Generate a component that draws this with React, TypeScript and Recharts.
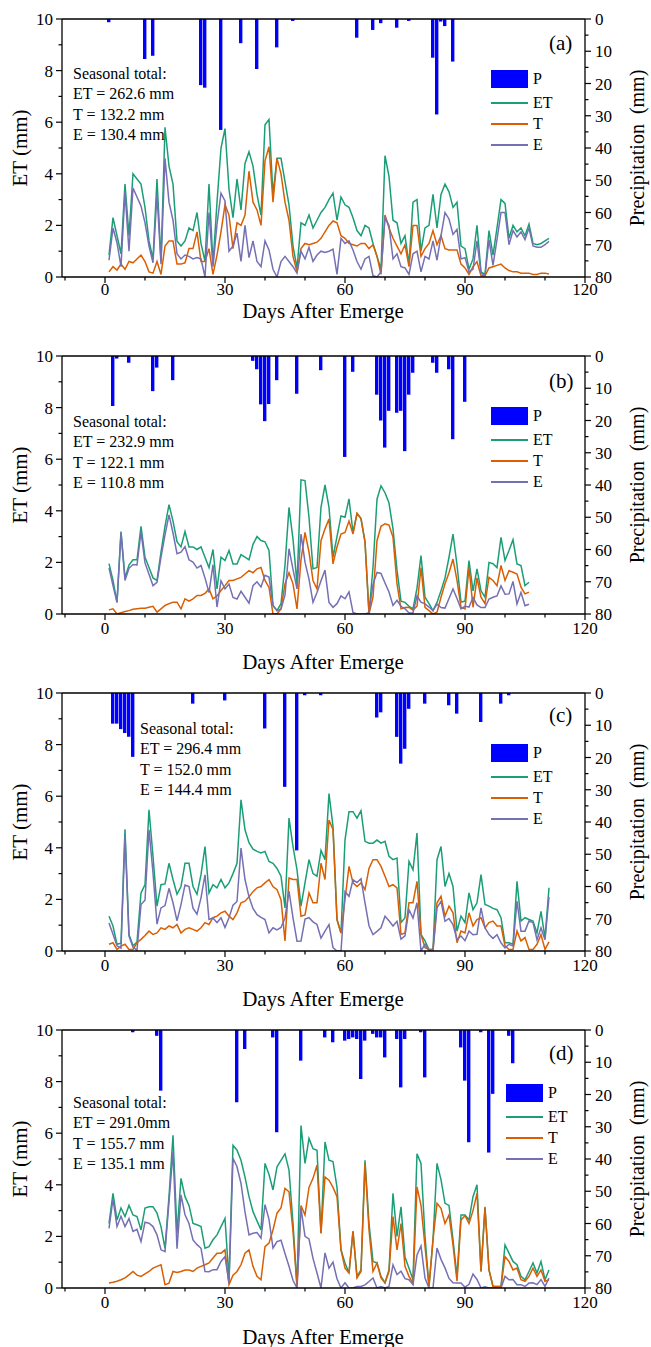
import { Bar, ComposedChart, Line, ReferenceLine, XAxis, YAxis } from 'recharts';

const SERIF = 'Liberation Serif, DejaVu Serif, serif';
const C_ET = '#1b9e77';
const C_T = '#d95f02';
const C_E = '#7570b3';
const C_P = '#0000ff';

const X_DOMAIN: [number, number] = [-10.75, 120];
const X_TICKS = [-10, 0, 10, 20, 30, 40, 50, 60, 70, 80, 90, 100, 110, 120];
const ET_TICKS = [0, 1, 2, 3, 4, 5, 6, 7, 8, 9, 10];
const P_TICKS = [0, 5, 10, 15, 20, 25, 30, 35, 40, 45, 50, 55, 60, 65, 70, 75, 80];

// (a) daily values, day 1..111
const ET_A = [
  0.85, 2.3, 1.6, 0.9, 3.6, 1.6, 4.0, 3.8, 3.6, 2.7,
  1.4, 0.7, 3.8, 0.6, 5.8, 4.3, 3.6, 1.4, 1.2, 1.4,
  1.9, 1.8, 2.5, 1.3, 0.6, 3.6, 0.5, 2.9, 5.0, 5.75,
  3.4, 2.3, 3.8, 2.6, 4.4, 4.85, 4.3, 3.2, 2.4, 5.9,
  6.1, 3.2, 4.6, 4.6, 3.7, 2.8, 1.2, 0.35, 2.1, 2.0,
  2.4, 1.9, 2.2, 2.5, 2.7, 3.0, 3.25, 2.2, 3.1, 2.8,
  2.7, 2.3, 1.8, 1.6, 2.0, 1.9, 1.3, 0.8, 0.3, 4.7,
  3.9, 2.2, 2.1, 1.3, 1.6, 0.5, 2.9, 3.0, 1.0, 1.9,
  2.0, 3.2, 1.9, 3.2, 3.6, 3.3, 2.7, 2.9, 1.2, 1.1,
  0.3, 0.7, 2.0, 0.2, 0.1, 1.8, 0.85, 1.9, 3.0, 2.85,
  1.5, 2.0, 1.75, 1.9, 1.6, 2.05, 1.3, 1.25, 1.3, 1.4, 1.5,
];
const T_A = [
  0.2, 0.4, 0.27, 0.5, 0.3, 0.6, 0.55, 0.7, 0.85, 0.6,
  0.2, 0.15, 0.6, 0.1, 1.2, 1.4, 1.4, 0.5, 0.5, 0.55,
  1.1, 1.1, 1.75, 0.6, 0.6, 1.1, 0.1, 0.85, 1.75, 2.8,
  2.4, 1.1, 2.1, 2.0, 2.4, 4.1, 2.9, 2.6, 2.0, 4.5,
  5.05, 2.9, 4.6, 4.0, 2.9, 2.2, 0.8, 0.2, 1.1, 1.3,
  1.25, 1.3, 1.35, 1.5, 1.75, 2.0, 2.17, 2.1, 1.6, 1.5,
  1.3, 1.25, 1.2, 1.3, 1.3, 1.1, 1.25, 0.8, 0.1, 2.4,
  1.9, 1.5, 1.2, 0.9, 1.25, 0.4, 2.0, 2.0, 0.8, 1.1,
  1.3, 1.8, 1.25, 1.6, 1.1, 1.05, 1.05, 1.05, 0.5, 0.35,
  0.1, 0.4, 0.6, 0.05, 0.05, 0.35, 0.4, 0.45, 0.5, 0.35,
  0.25, 0.2, 0.2, 0.15, 0.15, 0.15, 0.1, 0.1, 0.15, 0.15, 0.12,
];
const E_A = [
  0.65, 1.9, 1.33, 0.4, 3.3, 1.0, 3.45, 3.1, 2.75, 2.1,
  1.2, 0.55, 3.2, 0.5, 4.6, 2.9, 2.2, 0.9, 0.7, 0.85,
  0.8, 0.7, 0.75, 0.7, 0.0, 2.5, 0.4, 2.05, 3.25, 2.95,
  1.0, 1.2, 1.7, 0.6, 2.0, 0.75, 1.4, 0.6, 0.4, 1.4,
  1.05, 0.3, 0.0, 0.6, 0.8, 0.6, 0.4, 0.15, 1.0, 0.7,
  1.15, 0.6, 0.85, 1.0, 0.95, 1.0, 1.08, 0.1, 1.5, 1.3,
  1.4, 1.05, 0.6, 0.3, 0.7, 0.8, 0.05, 0.0, 0.2, 2.3,
  2.0, 0.7, 0.9, 0.4, 0.35, 0.1, 0.9, 1.0, 0.2, 0.8,
  0.7, 1.4, 0.65, 1.6, 2.5, 2.25, 1.65, 1.85, 0.7, 0.75,
  0.2, 0.3, 1.4, 0.15, 0.05, 1.45, 0.45, 1.45, 2.5, 2.5,
  1.25, 1.8, 1.55, 1.75, 1.45, 1.9, 1.2, 1.15, 1.15, 1.25, 1.38,
];
const P_DAY_A = [1, 10, 12, 24, 25, 29, 34, 38, 43, 47, 63, 67, 69, 73, 76, 82, 83, 84, 85, 87];
const P_MM_A = [1.0, 12.4, 11.4, 20.5, 21.3, 34.4, 7.5, 15.5, 8.8, 0.6, 5.8, 3.4, 1.3, 2.7, 0.6, 12.0, 29.6, 0.8, 2.2, 13.2];

// (b) daily values, day 1..106
const ET_B = [
  1.95, 1.3, 0.45, 3.2, 1.4, 1.9, 2.1, 2.1, 3.4, 2.2,
  1.8, 1.4, 1.3, 2.4, 3.4, 4.24, 3.6, 2.8, 2.6, 3.2,
  2.6, 2.6, 2.5, 2.6, 2.2, 1.8, 2.5, 0.97, 2.2, 2.07,
  2.46, 1.94, 1.94, 2.3, 2.2, 2.1, 2.7, 3.0, 2.85, 2.8,
  2.46, 0.33, 0.13, 0.4, 1.9, 4.13, 2.9, 1.17, 5.2, 5.17,
  3.75, 1.75, 1.8, 4.13, 5.0, 4.13, 2.2, 3.0, 3.8, 3.75,
  4.46, 3.16, 3.9, 3.7, 2.8, 0.05, 1.8, 4.45, 4.97, 4.7,
  4.3, 3.3, 1.7, 0.5, 0.45, 0.3, 0.2, 1.0, 2.26, 0.65,
  0.4, 0.13, 0.45, 0.9, 1.4, 2.2, 3.1, 1.9, 0.46, 0.5,
  2.07, 0.9, 1.75, 0.9, 0.65, 2.0, 1.95, 1.8, 2.97, 2.07,
  2.46, 2.88, 1.94, 1.88, 1.1, 1.23,
];
const T_B = [
  0.16, 0.2, 0.0, 0.05, 0.1, 0.13, 0.18, 0.2, 0.22, 0.22,
  0.26, 0.3, 0.07, 0.2, 0.33, 0.4, 0.46, 0.46, 0.2, 0.59,
  0.5, 0.59, 0.72, 0.72, 0.8, 0.97, 0.59, 0.7, 0.91, 1.1,
  1.3, 1.3, 1.36, 1.42, 1.55, 1.68, 1.6, 1.75, 1.8, 1.3,
  1.03, 0.0, 0.0, 0.2, 1.17, 1.6, 1.17, 0.2, 2.1, 3.16,
  2.4, 1.3, 0.97, 2.84, 3.3, 3.68, 1.94, 2.6, 3.1, 3.16,
  3.6, 3.1, 3.9, 3.7, 2.8, 0.0, 0.65, 2.84, 3.4, 3.5,
  3.45, 2.97, 1.17, 0.2, 0.25, 0.26, 0.15, 0.3, 1.8, 0.26,
  0.13, 0.0, 0.07, 0.65, 1.17, 1.6, 2.13, 1.3, 0.26, 0.2,
  1.8, 0.26, 1.4, 0.65, 0.4, 1.42, 1.3, 1.1, 1.88, 1.3,
  1.68, 1.62, 1.55, 1.04, 0.78, 0.85,
];
const E_B = [
  1.79, 1.1, 0.45, 3.15, 1.3, 1.77, 1.92, 1.9, 3.18, 1.98,
  1.54, 1.1, 1.23, 2.2, 3.07, 3.84, 3.14, 2.34, 2.4, 2.61,
  2.1, 2.01, 1.78, 1.88, 1.4, 0.83, 1.91, 0.27, 1.29, 0.97,
  1.16, 0.64, 0.58, 0.88, 0.65, 0.42, 1.1, 1.25, 1.05, 1.5,
  1.43, 0.33, 0.13, 0.2, 0.73, 2.53, 1.73, 0.97, 3.1, 2.01,
  1.35, 0.45, 0.83, 1.29, 1.7, 0.45, 0.26, 0.4, 0.7, 0.59,
  0.86, 0.06, 0.0, 0.0, 0.0, 0.05, 1.15, 1.61, 1.57, 1.2,
  0.85, 0.33, 0.53, 0.3, 0.2, 0.04, 0.05, 0.7, 0.46, 0.39,
  0.27, 0.13, 0.38, 0.25, 0.23, 0.6, 0.97, 0.6, 0.2, 0.3,
  0.27, 0.64, 0.35, 0.25, 0.25, 0.58, 0.65, 0.7, 1.09, 0.77,
  0.78, 1.26, 0.39, 0.84, 0.32, 0.38,
];
const P_DAY_B = [2, 3, 6, 12, 13, 17, 37, 38, 39, 40, 41, 43, 48, 54, 60, 62, 68, 69, 70, 71, 73, 74, 75, 76, 77, 82, 83, 86, 87, 90];
const P_MM_B = [15.5, 0.8, 2.1, 10.9, 3.6, 7.5, 1.5, 4.1, 15, 20.2, 14.9, 7.5, 11.7, 4.4, 31.3, 4.9, 12, 20, 28.4, 17, 17.6, 17, 29.5, 12, 5.2, 2.1, 5.2, 4.1, 25.8, 14.2];

// (c) daily values, day 1..111
const ET_C = [
  1.35, 0.97, 0.26, 0.3, 4.72, 0.64, 0.2, 0.35, 2.25, 2.57,
  5.47, 3.67, 1.74, 2.57, 2.6, 3.4, 2.77, 2.2, 2.5, 3.4,
  3.4, 2.5, 2.2, 2.96, 4.05, 2.25, 2.57, 2.45, 2.77, 2.45,
  2.64, 3.0, 3.4, 5.86, 4.7, 4.2, 3.95, 3.86, 3.8, 3.86,
  3.47, 3.4, 3.2, 2.9, 1.67, 5.15, 4.05, 3.15, 1.74, 2.64,
  3.54, 3.0, 2.9, 3.9, 3.54, 6.1, 4.83, 1.22, 0.7, 4.3,
  5.4, 5.4, 5.15, 5.44, 4.25, 4.18, 4.18, 4.3, 4.18, 4.25,
  3.67, 3.54, 3.6, 1.1, 1.29, 3.47, 3.15, 4.57, 0.64, 0.39,
  0.06, 0.06, 3.54, 4.05, 2.5, 3.0, 2.5, 0.77, 1.35, 1.1,
  2.25, 1.6, 1.87, 2.96, 1.8, 1.74, 1.65, 1.6, 1.29, 0.32,
  0.32, 0.26, 2.7, 1.16, 1.29, 1.22, 1.16, 0.7, 1.54, 0.5, 2.45,
];
const T_C = [
  0.26, 0.32, 0.06, 0.19, 0.26, 0.06, 0.06, 0.32, 0.45, 0.6,
  0.77, 0.64, 0.7, 0.9, 0.84, 0.97, 0.9, 1.03, 0.7, 0.84,
  0.9, 0.84, 0.77, 0.9, 1.1, 1.03, 1.29, 1.35, 1.48, 1.54,
  1.35, 1.22, 1.48, 1.87, 1.93, 2.1, 2.3, 2.45, 2.5, 2.64,
  2.77, 2.5, 2.38, 1.99, 0.39, 2.83, 2.77, 2.77, 1.35, 1.4,
  2.25, 1.87, 1.87, 3.4, 2.77, 5.08, 4.7, 1.22, 0.7, 2.0,
  3.28, 2.64, 2.5, 2.64, 2.38, 3.2, 3.54, 3.54, 3.28, 2.9,
  2.5, 2.57, 2.45, 0.64, 0.7, 1.87, 1.87, 2.7, 0.64, 0.13,
  0.06, 0.06, 1.87, 2.12, 1.35, 1.74, 1.48, 0.32, 0.77, 0.7,
  1.48, 0.97, 1.22, 1.29, 0.9, 1.1, 1.16, 0.97, 0.97, 0.2,
  0.06, 0.06, 0.77, 0.39, 0.52, 0.06, 0.06, 0.26, 0.64, 0.06, 0.35,
];
const E_C = [
  1.09, 0.65, 0.2, 0.11, 4.46, 0.58, 0.14, 0.03, 1.8, 1.97,
  4.7, 3.03, 1.04, 1.67, 1.76, 2.43, 1.87, 1.17, 1.8, 2.56,
  2.5, 1.66, 1.43, 2.06, 2.95, 1.22, 1.28, 1.1, 1.29, 0.91,
  1.29, 1.78, 1.92, 3.99, 2.77, 2.1, 1.65, 1.41, 1.3, 1.22,
  0.7, 0.9, 0.82, 0.91, 1.28, 2.32, 1.28, 0.38, 0.39, 1.24,
  1.29, 1.13, 1.03, 0.5, 0.77, 1.02, 0.13, 0.0, 0.0, 2.3,
  2.12, 2.76, 2.65, 2.8, 1.87, 0.98, 0.64, 0.76, 0.9, 1.35,
  1.17, 0.97, 1.15, 0.46, 0.59, 1.6, 1.28, 1.87, 0.0, 0.26,
  0.0, 0.0, 1.67, 1.93, 1.15, 1.26, 1.02, 0.45, 0.58, 0.4,
  0.77, 0.63, 0.65, 1.67, 0.9, 0.64, 0.49, 0.63, 0.32, 0.12,
  0.26, 0.2, 1.93, 0.77, 0.77, 1.16, 1.1, 0.44, 0.9, 0.44, 2.1,
];
const P_DAY_C = [2, 3, 4, 5, 6, 7, 22, 30, 40, 45, 48, 50, 54, 68, 69, 73, 74, 75, 76, 80, 86, 88, 94, 99, 101];
const P_MM_C = [9.5, 9.5, 11.2, 12.4, 13.6, 19.8, 3.3, 2.3, 11, 29.1, 48.8, 0.7, 0.7, 7.6, 6, 13.6, 21.9, 17.3, 4.9, 3.3, 3.8, 6.4, 9, 3.3, 0.7];

// (d) daily values, day 1..111
const ET_D = [
  2.5, 3.67, 2.64, 3.1, 2.77, 3.2, 2.83, 2.77, 2.25, 3.1,
  3.15, 3.15, 2.9, 2.38, 1.54, 3.54, 5.92, 2.12, 4.25, 3.54,
  3.2, 2.5, 2.45, 2.38, 1.54, 1.6, 1.87, 2.06, 2.38, 2.7,
  0.32, 5.53, 5.34, 4.95, 4.3, 3.54, 2.96, 2.6, 2.25, 4.83,
  4.4, 3.8, 4.7, 4.95, 5.2, 4.57, 2.5, 0.06, 6.3, 4.83,
  5.8, 5.4, 5.34, 2.12, 5.66, 4.95, 4.9, 3.9, 1.48, 0.97,
  0.58, 2.2, 0.45, 0.7, 4.95, 2.5, 1.03, 0.97, 0.45, 0.2,
  0.7, 3.67, 2.0, 3.15, 1.2, 0.77, 0.32, 5.2, 4.83, 2.0,
  0.06, 1.87, 4.83, 4.2, 3.28, 3.2, 1.87, 0.45, 2.83, 2.83,
  2.64, 3.54, 4.0, 0.64, 3.15, 0.7, 0.06, 0.06, 0.06, 1.67,
  1.35, 1.03, 0.9, 0.45, 0.32, 0.64, 0.97, 0.58, 1.03, 0.32, 0.7,
];
const T_D = [
  0.19, 0.22, 0.26, 0.32, 0.39, 0.51, 0.64, 0.5, 0.45, 0.55,
  0.64, 0.77, 0.84, 0.9, 0.13, 0.19, 0.64, 0.6, 0.64, 0.7,
  0.7, 0.64, 0.77, 0.84, 0.9, 0.97, 1.16, 1.35, 1.35, 1.48,
  0.13, 0.5, 0.64, 0.9, 1.35, 1.48, 0.84, 0.45, 0.32, 1.6,
  1.74, 2.25, 2.9, 3.1, 3.86, 3.73, 2.2, 0.06, 3.2, 2.83,
  3.9, 4.25, 4.76, 2.12, 4.3, 4.18, 3.9, 3.54, 1.48, 0.77,
  0.58, 2.2, 0.39, 0.64, 4.83, 2.25, 0.64, 0.97, 0.39, 0.2,
  0.64, 2.77, 1.48, 2.5, 0.84, 0.45, 0.19, 3.92, 3.2, 1.61,
  0.06, 1.87, 3.28, 3.09, 2.5, 2.83, 1.67, 0.26, 2.64, 2.8,
  2.5, 3.0, 3.67, 0.64, 3.1, 0.7, 0.06, 0.06, 0.06, 1.22,
  1.03, 0.7, 0.77, 0.32, 0.26, 0.45, 0.77, 0.45, 0.7, 0.26, 0.32,
];
const E_D = [
  2.31, 3.45, 2.38, 2.78, 2.38, 2.69, 2.19, 2.27, 1.8, 2.55,
  2.51, 2.38, 2.06, 1.48, 1.41, 3.35, 5.28, 1.52, 3.61, 2.84,
  2.5, 1.86, 1.68, 1.54, 0.64, 0.63, 0.71, 0.71, 1.03, 1.22,
  0.19, 5.03, 4.7, 4.05, 2.95, 2.06, 2.12, 2.15, 1.93, 3.23,
  2.66, 1.55, 1.8, 1.85, 1.34, 0.84, 0.3, 0.0, 3.1, 2.0,
  1.9, 1.15, 0.58, 0.0, 1.36, 0.77, 1.0, 0.36, 0.0, 0.2,
  0.0, 0.0, 0.06, 0.06, 0.12, 0.25, 0.39, 0.0, 0.06, 0.0,
  0.06, 0.9, 0.52, 0.65, 0.36, 0.32, 0.13, 1.28, 1.63, 0.39,
  0.0, 0.0, 1.55, 1.11, 0.78, 0.37, 0.2, 0.19, 0.19, 0.03,
  0.14, 0.54, 0.33, 0.0, 0.05, 0.0, 0.0, 0.0, 0.0, 0.45,
  0.32, 0.33, 0.13, 0.13, 0.06, 0.19, 0.2, 0.13, 0.33, 0.06, 0.38,
];
const P_DAY_D = [7, 13, 14, 33, 35, 42, 43, 49, 55, 57, 60, 61, 62, 63, 64, 65, 67, 68, 69, 70, 73, 74, 75, 79, 80, 89, 90, 91, 94, 96, 97, 101, 102];
const P_MM_D = [0.7, 1.8, 18.8, 22.4, 5.9, 2.3, 31.7, 9.5, 2.3, 3.8, 3.3, 2.8, 2.3, 2.8, 15.2, 3.3, 1.2, 2.3, 2.3, 8.5, 2.8, 17.8, 2.8, 0.7, 14.7, 5.4, 15.7, 34.8, 0.7, 38, 19.8, 1.8, 10.3];

const PANELS = [
  { tag: '(a)', et: ET_A, t: T_A, e: E_A, pDay: P_DAY_A, pMm: P_MM_A,
    totals: ['Seasonal total:', 'ET = 262.6 mm', 'T = 132.2 mm', 'E = 130.4 mm'],
    textX: 73, textTop: 64, legendX: 491, legendY: 70, tagY: 43, tickDy: 18, titleGap: 34 },
  { tag: '(b)', et: ET_B, t: T_B, e: E_B, pDay: P_DAY_B, pMm: P_MM_B,
    totals: ['Seasonal total:', 'ET = 232.9 mm', 'T = 122.1 mm', 'E = 110.8 mm'],
    textX: 73, textTop: 75, legendX: 491, legendY: 70, tagY: 44, tickDy: 20, titleGap: 48 },
  { tag: '(c)', et: ET_C, t: T_C, e: E_C, pDay: P_DAY_C, pMm: P_MM_C,
    totals: ['Seasonal total:', 'ET = 296.4 mm', 'T = 152.0 mm', 'E = 144.4 mm'],
    textX: 140, textTop: 45, legendX: 491, legendY: 70, tagY: 41, tickDy: 20, titleGap: 48 },
  { tag: '(d)', et: ET_D, t: T_D, e: E_D, pDay: P_DAY_D, pMm: P_MM_D,
    totals: ['Seasonal total:', 'ET = 291.0mm', 'T = 155.7 mm', 'E = 135.1 mm'],
    textX: 73, textTop: 82, legendX: 506, legendY: 73, tagY: 42, tickDy: 20, titleGap: 49 },
];

const PANEL_H = 337;
const PLOT_TOP = 19;
const PLOT_H = 258;
const LEFT_W = 62;
const RIGHT_W = 66;
const AXIS = { stroke: '#000', strokeWidth: 1.3 };

function buildRows(et: number[], t: number[], e: number[], pDay: number[], pMm: number[]) {
  return et.map((v, i) => {
    const day = i + 1;
    const k = pDay.indexOf(day);
    return { day, ET: v, T: t[i], E: e[i], P: k < 0 ? null : pMm[k] };
  });
}

const BottomTick = (props: any) => {
  const { x, y, payload, labelDy } = props;
  const v = payload.value;
  const major = v % 30 === 0;
  return (
    <g>
      <line x1={x} x2={x} y1={y} y2={y + (major ? 6 : 3.5)} stroke="#000" strokeWidth={1.2} />
      {major ? (
        <text x={x} y={y + labelDy} textAnchor="middle" fontSize={17} style={{ fontFamily: SERIF }} fill="#000">{v}</text>
      ) : null}
    </g>
  );
};

const LeftTick = (props: any) => {
  const { x, y, payload } = props;
  const v = payload.value;
  const major = v % 2 === 0;
  return (
    <g>
      <line x1={x} x2={x - (major ? 6 : 3.5)} y1={y} y2={y} stroke="#000" strokeWidth={1.2} />
      {major ? (
        <text x={x - 9} y={y + 6} textAnchor="end" fontSize={17} style={{ fontFamily: SERIF }} fill="#000">{v}</text>
      ) : null}
    </g>
  );
};

const RightTick = (props: any) => {
  const { x, y, payload } = props;
  const v = payload.value;
  const major = v % 10 === 0;
  return (
    <g>
      <line x1={x} x2={x + (major ? 6 : 3.5)} y1={y} y2={y} stroke="#000" strokeWidth={1.2} />
      {major ? (
        <text x={x + 10} y={y + 6} textAnchor="start" fontSize={17} style={{ fontFamily: SERIF }} fill="#000">{v}</text>
      ) : null}
    </g>
  );
};

const textStyle = { position: 'absolute' as const, fontFamily: SERIF, color: '#000', whiteSpace: 'pre' as const, lineHeight: 1 };

function Panel({ p, top }: { p: (typeof PANELS)[number]; top: number }) {
  const rows = buildRows(p.et, p.t, p.e, p.pDay, p.pMm);
  const midY = PLOT_TOP + PLOT_H / 2;
  const axisY = PLOT_TOP + PLOT_H;
  const legendRows = [
    { name: 'ET', color: C_ET, y: p.legendY + 33 },
    { name: 'T', color: C_T, y: p.legendY + 54 },
    { name: 'E', color: C_E, y: p.legendY + 75 },
  ];
  return (
    <div style={{ position: 'absolute', left: 0, top, width: 651, height: PANEL_H, fontFamily: SERIF }}>
      <ComposedChart width={651} height={PANEL_H} data={rows} margin={{ top: PLOT_TOP, right: 0, bottom: 0, left: 0 }}>
        <XAxis xAxisId="x" type="number" dataKey="day" domain={X_DOMAIN} allowDataOverflow ticks={X_TICKS} interval={0}
          tick={(tp: any) => <BottomTick {...tp} labelDy={p.tickDy} />} tickLine={false} tickSize={0} tickMargin={0}
          height={PANEL_H - PLOT_TOP - PLOT_H} axisLine={AXIS} />
        <YAxis yAxisId="et" type="number" domain={[0, 10]} allowDataOverflow ticks={ET_TICKS} interval={0}
          tick={LeftTick} tickLine={false} tickSize={0} tickMargin={0} width={LEFT_W} axisLine={AXIS} />
        <YAxis yAxisId="p" orientation="right" type="number" domain={[0, 80]} reversed allowDataOverflow ticks={P_TICKS} interval={0}
          tick={RightTick} tickLine={false} tickSize={0} tickMargin={0} width={RIGHT_W} axisLine={AXIS} />
        <ReferenceLine xAxisId="x" yAxisId="et" y={10} stroke="#000" strokeWidth={1.3} />
        <Bar xAxisId="x" yAxisId="p" dataKey="P" fill={C_P} barSize={3.4} isAnimationActive={false} />
        <Line xAxisId="x" yAxisId="et" type="linear" dataKey="ET" stroke={C_ET} strokeWidth={1.5} dot={false} activeDot={false} isAnimationActive={false} />
        <Line xAxisId="x" yAxisId="et" type="linear" dataKey="T" stroke={C_T} strokeWidth={1.5} dot={false} activeDot={false} isAnimationActive={false} />
        <Line xAxisId="x" yAxisId="et" type="linear" dataKey="E" stroke={C_E} strokeWidth={1.5} dot={false} activeDot={false} isAnimationActive={false} />
      </ComposedChart>

      <div style={{ ...textStyle, left: 20, top: midY, fontSize: 21, transform: 'translate(-50%, -50%) rotate(-90deg)' }}>ET (mm)</div>
      <div style={{ ...textStyle, left: 637, top: midY, fontSize: 20, transform: 'translate(-50%, -50%) rotate(-90deg)' }}>Precipitation  (mm)</div>
      <div style={{ ...textStyle, left: 323, top: axisY + p.titleGap, fontSize: 21, transform: 'translate(-50%, -50%)' }}>Days After Emerge</div>
      <div style={{ ...textStyle, left: 549, top: p.tagY, fontSize: 21, transform: 'translateY(-50%)' }}>{p.tag}</div>

      <div style={{ ...textStyle, left: p.textX, top: p.textTop, fontSize: 16, lineHeight: '20.3px' }}>
        {p.totals.map((s) => (<div key={s}>{s}</div>))}
      </div>

      <div style={{ position: 'absolute', left: p.legendX, top: p.legendY, width: 37, height: 18, background: C_P }} />
      <div style={{ ...textStyle, left: p.legendX + 42, top: p.legendY + 9, fontSize: 16, transform: 'translateY(-50%)' }}>P</div>
      {legendRows.map((r) => (
        <div key={r.name}>
          <div style={{ position: 'absolute', left: p.legendX, top: r.y - 1, width: 37, height: 2, background: r.color }} />
          <div style={{ ...textStyle, left: p.legendX + 42, top: r.y, fontSize: 16, transform: 'translateY(-50%)' }}>{r.name}</div>
        </div>
      ))}
    </div>
  );
}

export default function App() {
  return (
    <div style={{ position: 'absolute', left: 0, top: 0, width: 651, height: 1347, background: '#fff', overflow: 'hidden' }}>
      {PANELS.map((p, i) => (
        <Panel key={p.tag} p={p} top={i * PANEL_H} />
      ))}
    </div>
  );
}
